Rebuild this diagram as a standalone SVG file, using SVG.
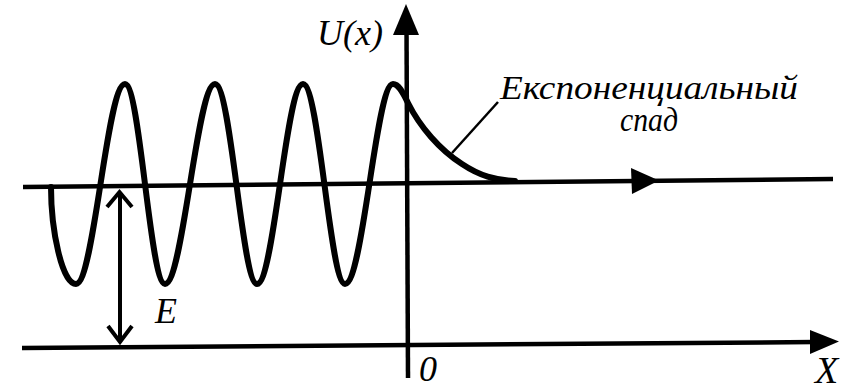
<svg xmlns="http://www.w3.org/2000/svg" width="848" height="389" viewBox="0 0 848 389">
<style>
.ax{stroke:#000;stroke-width:4.5;fill:none;stroke-linecap:butt}
.wave{stroke:#000;stroke-width:6;fill:none;stroke-linejoin:round;stroke-linecap:round}
.thin{stroke:#000;stroke-width:2.5;fill:none}
.ea{stroke:#000;stroke-width:4;fill:none;stroke-linejoin:miter}
.head{fill:#000;stroke:none}
.lbl{font-family:'Liberation Serif','DejaVu Serif',serif;font-style:italic;fill:#000}
</style>
<rect width="848" height="389" fill="#fff"/>
<g id="connectors">
  <g id="energy-line">
    <line class="ax" x1="23" y1="187" x2="833" y2="179"/>
    <polygon class="head" points="659,180.5 631,168 632,194"/>
  </g>
  <g id="x-axis">
    <line class="ax" x1="22" y1="348" x2="815" y2="342"/>
    <polygon class="head" points="839,341.5 810,330 810,354"/>
  </g>
  <g id="u-axis">
    <line class="ax" x1="406.5" y1="28" x2="408" y2="378"/>
    <polygon class="head" points="406,4 393,35 419,35"/>
  </g>
  <g id="e-arrow">
    <line class="ea" x1="120" y1="193" x2="120" y2="342"/>
    <polyline class="ea" points="107,207 119.5,192 132,207"/>
    <polyline class="ea" points="108,326 120,342 132,326"/>
  </g>
  <line id="leader" class="thin" x1="452" y1="153" x2="498" y2="102"/>
</g>
<g id="potential">
  <path class="wave" d="M51,187 C51,230 62,284 76,284 C94,284 107,84 125,84 C140,84 150,284 165,284 C183,284 197,84 215,84 C231,84 242,284 257,284 C274,284 286,84 303,84 C319,84 330,284 345,284 C363,284 376,84 393,84 C399,84 403,93 408,103 C420,127 440,150 462,164 C480,176 495,180 515,181"/>
</g>
<g id="labels">
  <text id="label-u" class="lbl" x="317" y="45" font-size="36" textLength="66" lengthAdjust="spacingAndGlyphs">U(x)</text>
  <text id="label-exp" class="lbl" x="500" y="99" font-size="34" textLength="298" lengthAdjust="spacingAndGlyphs">Експоненциальный</text>
  <text id="label-spad" class="lbl" x="620" y="131" font-size="34" textLength="58" lengthAdjust="spacingAndGlyphs">спад</text>
  <text id="label-e" class="lbl" x="155" y="323" font-size="36">E</text>
  <text id="label-0" class="lbl" x="419" y="381" font-size="36">0</text>
  <text id="label-x" class="lbl" x="815" y="383" font-size="38">X</text>
</g>
</svg>
